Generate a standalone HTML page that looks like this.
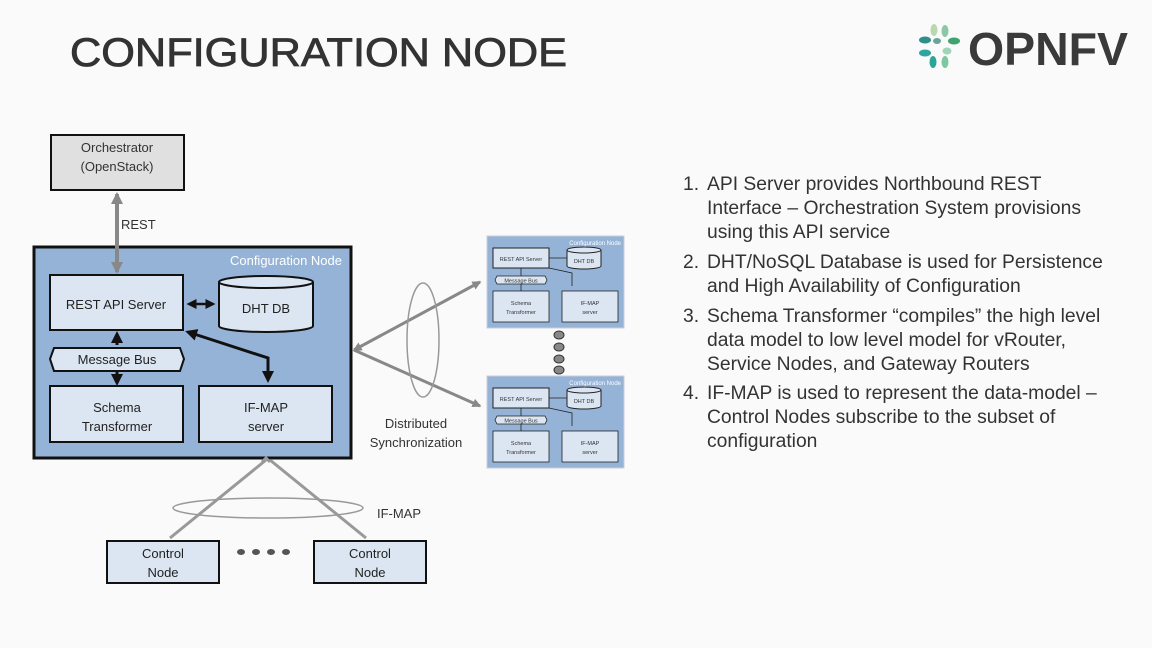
<!DOCTYPE html>
<html><head><meta charset="utf-8"><style>
html,body{margin:0;padding:0;background:#fafafa;}
svg{display:block;}
text{font-family:"Liberation Sans",sans-serif;}
</style></head><body>
<svg width="1152" height="648" viewBox="0 0 1152 648" xmlns="http://www.w3.org/2000/svg">
<defs>
<marker id="ga" markerWidth="3" markerHeight="3" refX="2.5" refY="1.5" orient="auto-start-reverse" markerUnits="strokeWidth"><path d="M0,0 L3,1.5 L0,3 z" fill="#888"/></marker>
<marker id="ba" markerWidth="4" markerHeight="4" refX="3" refY="2" orient="auto-start-reverse" markerUnits="strokeWidth"><path d="M0,0 L4,2 L0,4 z" fill="#111"/></marker>
<g id="mini">
<rect x="0" y="0" width="137" height="92" fill="#95b3d7" stroke="#ccd" stroke-width="1"/>
<text x="134" y="9" font-size="6" fill="#fff" text-anchor="end">Configuration Node</text>
<rect x="6" y="12" width="56" height="20" fill="#dce6f2" stroke="#222" stroke-width="1"/>
<text x="34" y="25" font-size="5.5" text-anchor="middle" fill="#333">REST API Server</text>
<path d="M80,14 v16 a17,3 0 0 0 34,0 v-16" fill="#dce6f2" stroke="#222"/>
<ellipse cx="97" cy="14" rx="17" ry="3" fill="#dce6f2" stroke="#222"/>
<text x="97" y="27" font-size="5.5" text-anchor="middle" fill="#333">DHT DB</text>
<path d="M62,22 H80 M62,32 L85,37 V50" stroke="#222" stroke-width="0.8" fill="none"/>
<path d="M8,44 L10,40 H58 L60,44 L58,48 H10 z" fill="#dce6f2" stroke="#222" stroke-width="0.8"/>
<text x="34" y="46.5" font-size="5.5" text-anchor="middle" fill="#333">Message Bus</text>
<path d="M34,32 V40 M34,48 V55" stroke="#222" stroke-width="0.8"/>
<rect x="6" y="55" width="56" height="31" fill="#dce6f2" stroke="#222" stroke-width="0.8"/>
<text x="34" y="69" font-size="5.5" text-anchor="middle" fill="#333">Schema</text>
<text x="34" y="78" font-size="5.5" text-anchor="middle" fill="#333">Transformer</text>
<rect x="75" y="55" width="56" height="31" fill="#dce6f2" stroke="#222" stroke-width="0.8"/>
<text x="103" y="69" font-size="5.5" text-anchor="middle" fill="#333">IF-MAP</text>
<text x="103" y="78" font-size="5.5" text-anchor="middle" fill="#333">server</text>
</g>
</defs>

<text x="70" y="66" font-size="40" fill="#333" stroke="#333" stroke-width="0.8" textLength="497" lengthAdjust="spacingAndGlyphs">CONFIGURATION NODE</text>

<!-- logo -->
<g>
<ellipse cx="934" cy="30" rx="3.5" ry="6" fill="#b9d8b0"/>
<ellipse cx="945" cy="31" rx="3.5" ry="6" fill="#8cc7a8"/>
<ellipse cx="925" cy="40" rx="6" ry="3.5" fill="#2f8f8a"/>
<ellipse cx="937" cy="41" rx="4" ry="3" fill="#6aa39a"/>
<ellipse cx="954" cy="41" rx="6" ry="3.5" fill="#3fa26f"/>
<ellipse cx="925" cy="53" rx="6" ry="3.5" fill="#2da5a0"/>
<ellipse cx="947" cy="51" rx="4.5" ry="3.5" fill="#9fd5b8"/>
<ellipse cx="933" cy="62" rx="3.5" ry="6" fill="#2aa59a"/>
<ellipse cx="945" cy="62" rx="3.5" ry="6" fill="#7fc7a0"/>
</g>
<text x="968" y="65" font-size="46" font-weight="bold" fill="#3a3a3a" textLength="160" lengthAdjust="spacingAndGlyphs">OPNFV</text>

<!-- orchestrator -->
<rect x="51" y="135" width="133" height="55" fill="#e0e0e0" stroke="#111" stroke-width="2"/>
<text x="117" y="152" font-size="13" fill="#333" text-anchor="middle">Orchestrator</text>
<text x="117" y="171" font-size="13" fill="#333" text-anchor="middle">(OpenStack)</text>

<!-- config node -->
<rect x="34" y="247" width="317" height="211" fill="#95b3d7" stroke="#111" stroke-width="3"/>
<text x="342" y="265" font-size="13" fill="#fff" text-anchor="end">Configuration Node</text>

<line x1="117" y1="194" x2="117" y2="272" stroke="#888" stroke-width="4" marker-start="url(#ga)" marker-end="url(#ga)"/>
<text x="121" y="229" font-size="13" fill="#333">REST</text>

<rect x="50" y="275" width="133" height="55" fill="#dce6f2" stroke="#111" stroke-width="2"/>
<text x="116" y="309" font-size="13" fill="#222" text-anchor="middle">REST API Server</text>

<path d="M219,282 v44 a47,6 0 0 0 94,0 v-44" fill="#dce6f2" stroke="#111" stroke-width="2"/>
<ellipse cx="266" cy="282" rx="47" ry="6" fill="#dce6f2" stroke="#111" stroke-width="2"/>
<text x="266" y="313" font-size="13" fill="#222" text-anchor="middle">DHT DB</text>

<line x1="189" y1="304" x2="213" y2="304" stroke="#111" stroke-width="2.5" marker-start="url(#ba)" marker-end="url(#ba)"/>
<polyline points="188,332 268,358 268,380" fill="none" stroke="#111" stroke-width="3" marker-start="url(#ba)" marker-end="url(#ba)"/>

<path d="M50,359 L54,348 H180 L184,359 L180,371 H54 z" fill="#dce6f2" stroke="#111" stroke-width="2"/>
<text x="117" y="364" font-size="13" fill="#222" text-anchor="middle">Message Bus</text>
<line x1="117" y1="334" x2="117" y2="345" stroke="#111" stroke-width="3" marker-start="url(#ba)"/>
<line x1="117" y1="372" x2="117" y2="383" stroke="#111" stroke-width="3" marker-end="url(#ba)"/>

<rect x="50" y="386" width="133" height="56" fill="#dce6f2" stroke="#111" stroke-width="2"/>
<text x="117" y="412" font-size="13" fill="#222" text-anchor="middle">Schema</text>
<text x="117" y="431" font-size="13" fill="#222" text-anchor="middle">Transformer</text>
<rect x="199" y="386" width="133" height="56" fill="#dce6f2" stroke="#111" stroke-width="2"/>
<text x="266" y="412" font-size="13" fill="#222" text-anchor="middle">IF-MAP</text>
<text x="266" y="431" font-size="13" fill="#222" text-anchor="middle">server</text>

<!-- distributed sync -->
<line x1="354" y1="350" x2="480" y2="282" stroke="#888" stroke-width="3" marker-start="url(#ga)" marker-end="url(#ga)"/>
<line x1="354" y1="350" x2="480" y2="406" stroke="#888" stroke-width="3" marker-end="url(#ga)"/>
<ellipse cx="423" cy="340" rx="16" ry="57" fill="none" stroke="#999" stroke-width="1.5"/>
<text x="416" y="428" font-size="13" fill="#333" text-anchor="middle">Distributed</text>
<text x="416" y="447" font-size="13" fill="#333" text-anchor="middle">Synchronization</text>
<use href="#mini" x="487" y="236"/>
<use href="#mini" x="487" y="376"/>
<g fill="#888" stroke="#333" stroke-width="1">
<ellipse cx="559" cy="335" rx="5" ry="4"/><ellipse cx="559" cy="347" rx="5" ry="4"/>
<ellipse cx="559" cy="359" rx="5" ry="4"/><ellipse cx="559" cy="370" rx="5" ry="4"/>
</g>

<!-- IF-MAP bottom -->
<line x1="266" y1="460" x2="170" y2="538" stroke="#999" stroke-width="3"/>
<line x1="270" y1="460" x2="366" y2="538" stroke="#999" stroke-width="3"/>
<path d="M262,462 l4,-4 l4,4" stroke="#999" stroke-width="3" fill="none"/>
<ellipse cx="268" cy="508" rx="95" ry="10" fill="none" stroke="#999" stroke-width="1.5"/>
<text x="399" y="518" font-size="13" fill="#333" text-anchor="middle">IF-MAP</text>
<rect x="107" y="541" width="112" height="42" fill="#dce6f2" stroke="#111" stroke-width="2"/>
<text x="163" y="558" font-size="13" fill="#222" text-anchor="middle">Control</text>
<text x="163" y="577" font-size="13" fill="#222" text-anchor="middle">Node</text>
<rect x="314" y="541" width="112" height="42" fill="#dce6f2" stroke="#111" stroke-width="2"/>
<text x="370" y="558" font-size="13" fill="#222" text-anchor="middle">Control</text>
<text x="370" y="577" font-size="13" fill="#222" text-anchor="middle">Node</text>
<g fill="#555"><ellipse cx="241" cy="552" rx="4" ry="3"/><ellipse cx="256" cy="552" rx="4" ry="3"/><ellipse cx="271" cy="552" rx="4" ry="3"/><ellipse cx="286" cy="552" rx="4" ry="3"/></g>

<!-- right text -->
<g font-size="19.3" fill="#333">
<text x="683" y="190">1.</text>
<text x="707" y="190">API Server provides Northbound REST</text>
<text x="707" y="214">Interface – Orchestration System provisions</text>
<text x="707" y="238">using this API service</text>
<text x="683" y="268">2.</text>
<text x="707" y="268">DHT/NoSQL Database is used for Persistence</text>
<text x="707" y="292">and High Availability of Configuration</text>
<text x="683" y="322">3.</text>
<text x="707" y="322">Schema Transformer “compiles” the high level</text>
<text x="707" y="346">data model to low level model for vRouter,</text>
<text x="707" y="370">Service Nodes, and Gateway Routers</text>
<text x="683" y="399">4.</text>
<text x="707" y="399">IF-MAP is used to represent the data-model –</text>
<text x="707" y="423">Control Nodes subscribe to the subset of</text>
<text x="707" y="447">configuration</text>
</g>
</svg>
</body></html>
